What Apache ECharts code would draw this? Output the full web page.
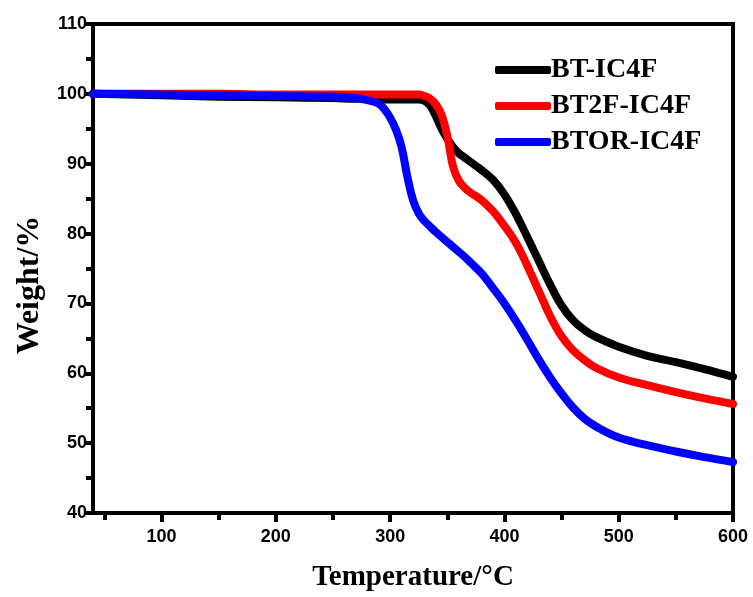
<!DOCTYPE html>
<html>
<head>
<meta charset="utf-8">
<script src="https://cdn.jsdelivr.net/npm/echarts@6/dist/echarts.min.js"></script>
<style>
  html, body { margin: 0; padding: 0; background: #fff; }
  #chart { width: 753px; height: 597px; }
</style>
</head>
<body>
<div id="chart"></div>
<script>
// TGA curves: weight retention (%) versus temperature (°C)
const temperatures = [40, 100, 150, 200, 250, 270, 280, 290, 295, 300, 305, 310, 315, 320, 325, 330, 335, 340, 345, 350, 355, 360, 365, 370, 380, 390, 400, 410, 420, 430, 440, 450, 460, 470, 480, 500, 525, 550, 575, 600];

const btIC4F   = [100, 99.8, 99.6, 99.5, 99.4, 99.3, 99.3, 99.3, 99.2, 99.2, 99.2, 99.2, 99.2, 99.2, 99.2, 99.0, 98.3, 96.8, 95.0, 93.6, 92.4, 91.5, 90.9, 90.3, 89.1, 87.7, 85.6, 82.8, 79.5, 76.1, 72.7, 69.7, 67.6, 66.2, 65.2, 63.8, 62.5, 61.6, 60.6, 59.5];
const bt2fIC4F = [100, 100, 100, 99.9, 99.9, 99.9, 99.9, 99.9, 99.9, 99.9, 99.9, 99.9, 99.9, 99.9, 99.9, 99.7, 99.3, 98.5, 97.0, 94.0, 89.6, 87.6, 86.6, 85.9, 84.8, 83.2, 81.1, 78.7, 75.4, 71.8, 68.2, 65.3, 63.3, 61.9, 60.8, 59.4, 58.3, 57.3, 56.4, 55.6];
const btorIC4F = [100, 99.9, 99.8, 99.7, 99.6, 99.4, 99.1, 98.6, 97.8, 96.6, 94.9, 92.4, 88.2, 84.8, 82.9, 81.8, 81.0, 80.2, 79.5, 78.8, 78.1, 77.4, 76.7, 75.9, 74.3, 72.2, 70.0, 67.5, 64.8, 62.0, 59.4, 57.1, 55.1, 53.5, 52.4, 50.8, 49.7, 48.8, 48.0, 47.3];

const seriesNames  = ['BT-IC4F', 'BT2F-IC4F', 'BTOR-IC4F'];
const seriesColors = ['#000000', '#ff0000', '#0000ff'];
const seriesValues = [btIC4F, bt2fIC4F, btorIC4F];

const xMajorTicks = [100, 200, 300, 400, 500, 600];
const xMinorTicks = [50, 150, 250, 350, 450, 550];

const tickFont = { fontFamily: '"Liberation Sans", Arial, sans-serif', fontWeight: 'bold', fontSize: 18, color: '#000' };
const titleFamily = '"Liberation Serif", "Times New Roman", serif';

const chart = echarts.init(document.getElementById('chart'), null, { renderer: 'canvas' });

chart.setOption({
  animation: false,
  backgroundColor: '#fff',
  grid: {
    left: 93, right: 20, top: 24, bottom: 82,
    show: true, borderColor: '#000', borderWidth: 4
  },
  legend: {
    orient: 'vertical',
    left: 490, top: 51,
    itemWidth: 56, itemHeight: 8, itemGap: 8,
    icon: 'roundRect',
    data: seriesNames,
    textStyle: { fontFamily: titleFamily, fontWeight: 'bold', fontSize: 28, color: '#000', padding: [0, 0, 0, -5] }
  },
  graphic: [{
    type: 'text',
    x: 30, y: 285,
    rotation: Math.PI / 2,
    style: {
      text: 'Weight/%',
      fontFamily: titleFamily, fontWeight: 'bold', fontSize: 32, fill: '#000',
      align: 'center', verticalAlign: 'middle'
    }
  }],
  xAxis: [{
    type: 'value',
    min: 40, max: 600,
    name: 'Temperature/°C',
    nameLocation: 'middle',
    nameGap: 50,
    nameTextStyle: { fontFamily: titleFamily, fontWeight: 'bold', fontSize: 29, color: '#000' },
    axisLine: { show: true, onZero: false, lineStyle: { color: '#000', width: 4 } },
    axisTick: { show: true, length: 9, lineStyle: { color: '#000', width: 4 }, customValues: xMajorTicks },
    axisLabel: Object.assign({}, tickFont, { margin: 15, customValues: xMajorTicks }),
    splitLine: { show: false }
  }, {
    // half-interval ticks along the bottom edge
    type: 'value',
    position: 'bottom',
    min: 40, max: 600,
    axisLine: { show: false },
    axisTick: { show: true, length: 7, lineStyle: { color: '#000', width: 4 }, customValues: xMinorTicks },
    axisLabel: { show: false },
    splitLine: { show: false }
  }],
  yAxis: {
    type: 'value',
    min: 40, max: 110,
    interval: 10,
    axisLine: { show: true, onZero: false, lineStyle: { color: '#000', width: 4 } },
    axisTick: { show: true, length: 9, lineStyle: { color: '#000', width: 4 } },
    minorTick: { show: true, splitNumber: 2, length: 7, lineStyle: { color: '#000', width: 4 } },
    axisLabel: Object.assign({}, tickFont, { margin: 6 }),
    splitLine: { show: false }
  },
  series: seriesNames.map((name, i) => ({
    name: name,
    type: 'line',
    xAxisIndex: 0,
    data: temperatures.map((t, k) => [t, seriesValues[i][k]]),
    showSymbol: false,
    symbol: 'none',
    smooth: 0.4,
    lineStyle: { color: seriesColors[i], width: 8, cap: 'round', join: 'round' },
    itemStyle: { color: seriesColors[i] }
  }))
});
</script>
</body>
</html>
